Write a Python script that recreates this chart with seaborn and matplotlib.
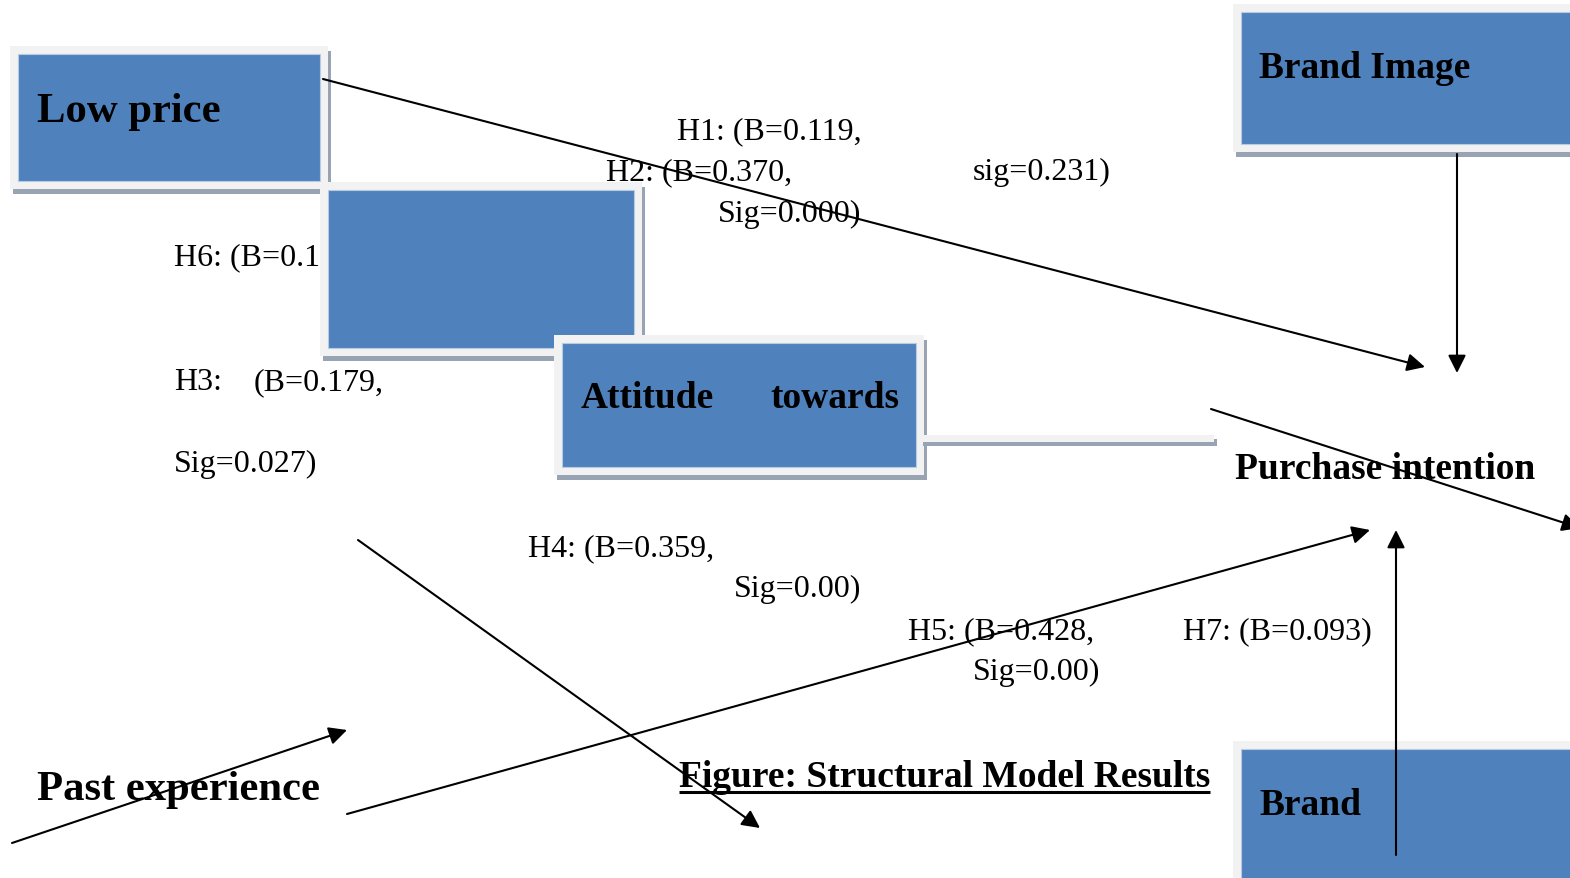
import matplotlib
matplotlib.use("Agg")
import matplotlib.pyplot as plt
import seaborn as sns
from matplotlib.patches import Rectangle, FancyArrowPatch

# Node labels of the structural model
node_labels = ["Low price", "", "Attitude", "Brand Image", "Purchase intention", "Brand", "Past experience"]
node_extra = ["", "", "towards", "", "", "", ""]

# Path coefficient annotations (as printed in the figure)
coef_labels = ["H1: (B=0.119,", "H2: (B=0.370,", "sig=0.231)", "Sig=0.000)",
               "H6: (B=0.1", "H3:", "(B=0.179,", "Sig=0.027)",
               "H4: (B=0.359,", "Sig=0.00)", "H5: (B=0.428,", "Sig=0.00)",
               "H7: (B=0.093)"]
caption = "Figure: Structural Model Results"

# ---- layout (pixel space of a 1570 x 879 canvas) ----
W, H = 1570, 879
# outer frame of each box: x0, y0, x1, y1
box_frames = [(10, 47, 328, 190), (320, 183, 642, 357), (554, 336, 924, 476),
              (1233, 5, 1585, 153), None, (1233, 742, 1585, 895), None]
label_pos = [(37, 122), None, (581, 408), (1259, 78), (1235, 479), (1259, 815), (37, 800)]
extra_pos = [None, None, (770, 408), None, None, None, None]
label_size = [30.7, 27, 27, 27, 27, 27, 30.7]
coef_pos = [(677, 139), (606, 180), (973, 180), (718, 222),
            (174, 265), (174, 390), (254, 390), (174, 472),
            (528, 556), (734, 597), (908, 639), (973, 680),
            (1183, 639)]
# connector bar out of the attitude box
bar = (920, 436, 1214, 443)
# arrows: start -> tip
arrows = [((323, 80), (1425, 368)), ((1457, 155), (1457, 374)),
          ((1211, 410), (1580, 529)), ((358, 541), (760, 829)),
          ((12, 844), (347, 731)), ((347, 815), (1370, 531)),
          ((1396, 856), (1396, 531))]

BLUE = "#4F81BD"
FRAME = "#F2F2F2"
SHADOW = "#98A3B4"

sns.set_theme(style="white")
plt.rcParams["font.family"] = ["Liberation Serif", "DejaVu Serif"]

fig = plt.figure(figsize=(15.7, 8.79), dpi=100)
ax = fig.add_axes([0, 0, 1, 1])
ax.set_xlim(0, W)
ax.set_ylim(H, 0)
ax.axis("off")

z = 1
for frame in box_frames:
    if frame is None:
        continue
    x0, y0, x1, y1 = frame
    ax.add_patch(Rectangle((x0 + 3, y0 + 5), x1 - x0, y1 - y0, facecolor=SHADOW,
                           edgecolor="none", zorder=z))
    ax.add_patch(Rectangle((x0, y0), x1 - x0, y1 - y0, facecolor=FRAME,
                           edgecolor="none", zorder=z + 0.1))
    ax.add_patch(Rectangle((x0 + 8, y0 + 8), x1 - x0 - 16, y1 - y0 - 16, facecolor=BLUE,
                           edgecolor="#B9CBE2", linewidth=0.8, zorder=z + 0.2))
    z += 1

bx0, by0, bx1, by1 = bar
ax.add_patch(Rectangle((bx0 + 3, by0 + 4), bx1 - bx0, by1 - by0, facecolor=SHADOW,
                       edgecolor="none", zorder=z))
ax.add_patch(Rectangle((bx0, by0), bx1 - bx0, by1 - by0, facecolor=FRAME,
                       edgecolor="none", zorder=z + 0.1))

for lab, pos, size in zip(node_labels, label_pos, label_size):
    if pos is None or not lab:
        continue
    ax.text(pos[0], pos[1], lab, fontsize=size, fontweight="bold", va="baseline",
            ha="left", color="black", zorder=20)
for lab, pos in zip(node_extra, extra_pos):
    if pos is None:
        continue
    ax.text(pos[0], pos[1], lab, fontsize=27, fontweight="bold", va="baseline",
            ha="left", color="black", zorder=20)

for lab, pos in zip(coef_labels, coef_pos):
    ax.text(pos[0], pos[1], lab, fontsize=23, va="baseline", ha="left",
            color="black", zorder=20)

cap = ax.text(679, 787, caption, fontsize=27, fontweight="bold", va="baseline",
              ha="left", color="black", zorder=20)
fig.canvas.draw()
bb = cap.get_window_extent().transformed(ax.transData.inverted())
ax.plot([bb.x0, bb.x1], [793, 793], color="black", lw=2.2, solid_capstyle="butt", zorder=20)

for start, tip in arrows:
    ax.add_patch(FancyArrowPatch(start, tip, arrowstyle="-|>,head_length=0.9,head_width=0.45",
                                 mutation_scale=12, color="black", lw=1.5,
                                 shrinkA=0, shrinkB=0, zorder=30))

fig.savefig("out.png", dpi=100)
